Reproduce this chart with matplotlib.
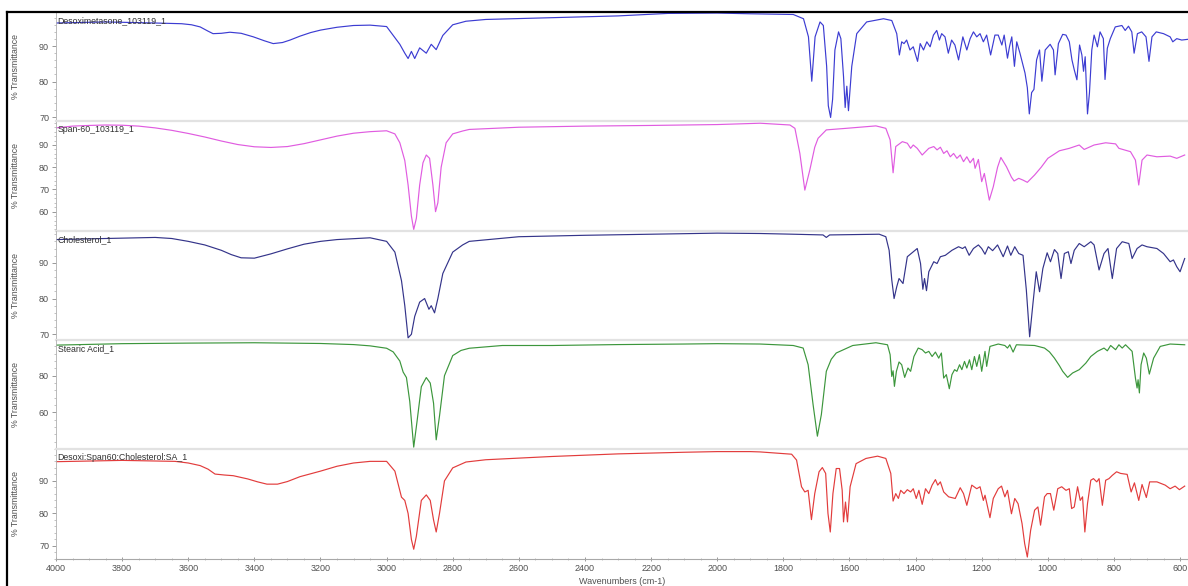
import matplotlib
matplotlib.use('Agg')
import matplotlib.pyplot as plt
from matplotlib.ticker import MultipleLocator, FixedLocator
from matplotlib.lines import Line2D

plt.rcParams['font.family'] = ['Liberation Sans', 'DejaVu Sans']

# ---------------- data: (wavenumber cm-1, % transmittance) ----------------
desoximetasone = [
    (4000, 96.5), (3850, 96.8), (3700, 96.5), (3620, 96.3), (3590, 96.0), (3564, 95.4),
    (3540, 94.2), (3525, 93.5), (3500, 93.6), (3474, 93.9), (3440, 93.6), (3403, 92.6),
    (3370, 91.5), (3343, 90.7), (3315, 91.0), (3292, 91.7), (3262, 92.8), (3230, 93.8),
    (3200, 94.5), (3150, 95.3), (3100, 95.8), (3050, 95.9), (3000, 95.5), (2980, 93.0),
    (2960, 90.5), (2945, 88.0), (2935, 86.5), (2925, 88.5), (2915, 86.5), (2900, 89.5),
    (2880, 88.0), (2865, 90.5), (2850, 89.0), (2830, 93.0), (2800, 96.0), (2760, 97.0),
    (2700, 97.5), (2500, 98.0), (2300, 98.5), (2150, 99.2), (2000, 99.3), (1900, 99.1),
    (1770, 98.9), (1739, 97.7), (1724, 92.6), (1714, 80.1), (1704, 92.6), (1689, 96.8),
    (1679, 95.8), (1669, 84.3), (1664, 73.2), (1657, 69.9), (1651, 75.0), (1644, 88.9),
    (1633, 94.0), (1626, 92.1), (1618, 81.5), (1613, 72.7), (1608, 78.7), (1603, 71.8),
    (1593, 84.3), (1578, 93.5), (1548, 96.8), (1497, 97.7), (1472, 97.2), (1457, 93.5),
    (1449, 87.5), (1442, 91.2), (1435, 90.7), (1427, 91.7), (1417, 88.9), (1407, 89.8),
    (1394, 85.7), (1386, 90.7), (1376, 88.9), (1366, 91.2), (1356, 89.8), (1346, 93.1),
    (1336, 94.4), (1328, 91.7), (1321, 93.5), (1311, 92.6), (1301, 88.0), (1291, 91.7),
    (1281, 90.3), (1270, 86.1), (1257, 92.6), (1245, 88.9), (1235, 92.1), (1225, 94.0),
    (1215, 92.6), (1205, 93.5), (1195, 91.2), (1185, 93.1), (1173, 87.5), (1160, 93.1),
    (1150, 93.1), (1139, 90.3), (1132, 93.1), (1122, 86.6), (1116, 89.8), (1109, 92.6),
    (1101, 84.3), (1094, 91.2), (1084, 87.9), (1069, 82.4), (1062, 78.3), (1056, 70.9),
    (1049, 76.9), (1042, 77.8), (1034, 86.1), (1025, 88.9), (1018, 80.1), (1008, 88.9),
    (993, 90.5), (983, 88.9), (978, 81.9), (968, 90.7), (955, 93.3), (945, 93.1),
    (935, 91.2), (927, 86.1), (920, 83.3), (912, 80.5), (904, 90.3), (897, 87.5),
    (892, 82.9), (887, 87.0), (880, 70.9), (874, 76.9), (867, 88.9), (860, 93.1),
    (850, 89.8), (842, 94.0), (832, 92.1), (827, 80.6), (820, 89.4), (811, 92.1),
    (796, 95.4), (776, 95.8), (766, 94.4), (756, 95.6), (746, 94.0), (739, 88.0),
    (729, 93.5), (716, 94.0), (703, 92.6), (694, 85.7), (685, 92.6), (672, 94.0),
    (650, 93.5), (630, 92.6), (622, 91.2), (610, 92.1), (595, 91.7), (577, 91.9),
]

span60 = [
    (4000, 97.7), (3950, 98.5), (3900, 98.8), (3850, 99.0), (3800, 98.9), (3750, 98.5),
    (3700, 97.7), (3650, 96.6), (3600, 95.2), (3550, 93.6), (3500, 91.8), (3450, 90.2),
    (3400, 89.2), (3350, 88.9), (3300, 89.3), (3250, 90.6), (3200, 92.3), (3150, 94.0),
    (3100, 95.3), (3050, 96.0), (3000, 96.4), (2975, 95.0), (2960, 91.0), (2945, 83.0),
    (2935, 72.0), (2925, 58.0), (2918, 52.0), (2910, 57.0), (2900, 72.0), (2890, 82.0),
    (2880, 85.5), (2870, 84.0), (2860, 72.0), (2852, 60.0), (2845, 64.0), (2835, 80.0),
    (2820, 91.0), (2800, 95.0), (2770, 96.3), (2750, 97.0), (2600, 98.0), (2400, 98.5),
    (2200, 98.8), (2000, 99.2), (1870, 99.8), (1780, 99.0), (1765, 97.5), (1750, 86.2),
    (1735, 69.7), (1720, 78.7), (1705, 89.0), (1695, 93.0), (1670, 96.8), (1610, 97.5),
    (1520, 98.6), (1490, 97.5), (1477, 92.3), (1468, 77.5), (1460, 89.3), (1440, 91.5),
    (1425, 90.8), (1415, 88.5), (1407, 90.0), (1395, 88.5), (1380, 85.5), (1360, 88.5),
    (1345, 89.3), (1335, 87.8), (1325, 89.0), (1315, 86.2), (1305, 87.4), (1295, 84.7),
    (1285, 86.2), (1275, 84.0), (1265, 85.5), (1255, 82.5), (1245, 84.7), (1235, 82.0),
    (1225, 84.0), (1220, 79.5), (1210, 83.5), (1200, 73.5), (1192, 77.2), (1177, 65.2),
    (1165, 71.2), (1152, 80.0), (1142, 84.4), (1125, 80.2), (1110, 75.5), (1102, 73.8),
    (1088, 75.0), (1075, 74.2), (1062, 73.2), (1040, 76.5), (1020, 80.0), (1000, 84.0),
    (965, 87.4), (935, 88.5), (905, 90.0), (890, 88.0), (860, 90.0), (825, 91.0),
    (795, 90.5), (785, 88.5), (750, 87.0), (735, 83.2), (725, 72.0), (715, 83.2),
    (700, 85.5), (670, 84.7), (630, 85.0), (610, 84.0), (586, 85.5),
]

cholesterol = [
    (4000, 96.5), (3850, 96.8), (3700, 97.1), (3650, 96.8), (3600, 96.0), (3550, 95.0),
    (3500, 93.5), (3470, 92.3), (3440, 91.4), (3400, 91.3), (3350, 92.5), (3300, 93.9),
    (3250, 95.2), (3200, 96.0), (3150, 96.5), (3050, 97.0), (3000, 96.0), (2975, 93.0),
    (2955, 85.0), (2945, 78.0), (2935, 69.0), (2925, 70.0), (2915, 75.0), (2900, 79.0),
    (2885, 80.0), (2872, 77.0), (2865, 78.0), (2855, 76.0), (2845, 80.0), (2830, 87.0),
    (2800, 93.0), (2770, 95.0), (2750, 96.0), (2600, 97.3), (2400, 97.7), (2200, 98.0),
    (2000, 98.3), (1870, 98.2), (1770, 98.0), (1680, 97.8), (1670, 97.1), (1660, 97.8),
    (1510, 98.0), (1490, 97.3), (1480, 93.5), (1472, 85.2), (1465, 80.0), (1457, 83.3),
    (1450, 85.6), (1438, 84.2), (1425, 91.7), (1395, 94.0), (1385, 89.8), (1378, 82.6),
    (1373, 85.6), (1367, 82.2), (1360, 87.5), (1345, 90.3), (1335, 89.8), (1325, 91.7),
    (1310, 92.1), (1290, 93.5), (1270, 94.5), (1258, 94.0), (1250, 94.5), (1238, 92.1),
    (1225, 94.0), (1210, 95.0), (1200, 94.0), (1190, 92.4), (1180, 94.5), (1167, 93.4),
    (1152, 95.0), (1135, 91.7), (1122, 94.7), (1112, 92.1), (1100, 94.5), (1088, 92.6),
    (1075, 92.1), (1065, 82.4), (1055, 69.3), (1045, 78.6), (1035, 87.5), (1025, 81.9),
    (1015, 88.4), (1002, 92.8), (992, 90.3), (980, 93.7), (970, 92.6), (960, 85.6),
    (950, 92.6), (938, 93.1), (930, 89.8), (920, 93.5), (905, 95.4), (890, 94.5),
    (870, 95.9), (860, 95.0), (845, 88.0), (830, 92.6), (818, 94.0), (805, 85.6),
    (792, 94.0), (775, 95.9), (755, 95.4), (745, 91.2), (730, 94.0), (715, 95.0),
    (700, 94.5), (670, 94.0), (650, 92.6), (630, 90.3), (620, 90.8), (610, 88.9),
    (600, 87.5), (586, 91.2),
]

stearic_acid = [
    (4000, 96.7), (3800, 97.5), (3600, 97.8), (3400, 98.0), (3200, 97.6), (3100, 97.0),
    (3050, 96.3), (3000, 95.0), (2980, 93.0), (2960, 88.0), (2950, 82.0), (2940, 79.0),
    (2930, 66.0), (2918, 41.0), (2908, 55.0), (2895, 74.0), (2880, 79.0), (2868, 76.0),
    (2858, 65.0), (2850, 45.0), (2840, 58.0), (2825, 80.0), (2800, 91.0), (2775, 93.8),
    (2750, 95.0), (2650, 96.5), (2500, 96.5), (2300, 97.0), (2100, 97.3), (2000, 97.5),
    (1870, 97.3), (1770, 96.5), (1740, 95.1), (1725, 86.0), (1710, 64.2), (1697, 47.0),
    (1685, 58.8), (1670, 82.4), (1655, 89.0), (1640, 92.4), (1590, 96.5), (1520, 98.0),
    (1485, 96.9), (1477, 91.5), (1472, 79.6), (1468, 82.7), (1464, 74.2), (1458, 82.4),
    (1450, 87.5), (1442, 86.0), (1433, 79.1), (1423, 84.2), (1415, 82.4), (1405, 90.5),
    (1392, 95.1), (1380, 94.2), (1370, 92.4), (1360, 93.3), (1350, 90.5), (1340, 92.9),
    (1330, 89.6), (1322, 92.4), (1315, 78.7), (1307, 80.6), (1298, 72.9), (1290, 80.6),
    (1282, 83.3), (1275, 82.4), (1267, 86.0), (1260, 83.3), (1252, 87.8), (1245, 84.2),
    (1237, 88.7), (1230, 83.3), (1222, 90.5), (1215, 85.1), (1207, 91.5), (1200, 82.4),
    (1190, 93.3), (1185, 85.1), (1175, 96.0), (1150, 97.3), (1130, 96.5), (1122, 95.1),
    (1115, 96.9), (1105, 92.9), (1095, 96.9), (1040, 96.5), (1010, 95.1), (995, 93.0),
    (980, 89.6), (965, 85.5), (955, 82.4), (940, 79.1), (925, 81.5), (905, 83.3),
    (885, 86.9), (870, 90.5), (850, 93.3), (830, 95.1), (820, 93.6), (810, 96.5),
    (795, 94.2), (785, 96.9), (775, 95.1), (765, 96.9), (755, 95.1), (745, 93.3),
    (735, 78.7), (730, 73.3), (727, 77.8), (723, 70.6), (718, 86.0), (710, 92.4),
    (702, 89.6), (693, 80.9), (680, 89.6), (660, 96.0), (630, 97.3), (586, 96.9),
]

mixture = [
    (4000, 95.9), (3800, 96.3), (3640, 96.0), (3600, 95.5), (3564, 94.7), (3540, 93.6),
    (3519, 92.1), (3490, 91.8), (3464, 91.6), (3420, 90.6), (3390, 89.7), (3362, 89.0),
    (3330, 89.0), (3300, 89.8), (3262, 91.3), (3200, 93.0), (3150, 94.5), (3100, 95.5),
    (3050, 96.0), (3000, 96.0), (2975, 93.0), (2955, 85.0), (2945, 84.0), (2935, 80.0),
    (2925, 72.0), (2918, 69.0), (2910, 73.0), (2895, 84.0), (2880, 85.7), (2868, 84.0),
    (2858, 78.0), (2850, 74.3), (2840, 80.0), (2825, 90.0), (2800, 94.0), (2760, 95.8),
    (2700, 96.5), (2500, 97.5), (2300, 98.3), (2100, 98.8), (2000, 99.0), (1900, 99.0),
    (1870, 98.9), (1775, 98.2), (1760, 96.4), (1745, 88.2), (1735, 86.6), (1725, 87.1),
    (1715, 78.1), (1705, 86.1), (1692, 92.8), (1682, 94.1), (1672, 92.3), (1665, 80.0),
    (1658, 74.3), (1650, 86.1), (1640, 93.8), (1630, 93.8), (1622, 87.1), (1618, 77.4),
    (1612, 83.5), (1606, 77.4), (1598, 88.2), (1580, 95.3), (1550, 96.9), (1515, 97.6),
    (1490, 96.9), (1475, 92.3), (1468, 83.8), (1460, 86.1), (1452, 84.6), (1445, 87.1),
    (1435, 86.1), (1425, 87.3), (1415, 86.6), (1407, 87.6), (1398, 84.6), (1390, 87.1),
    (1380, 82.8), (1370, 87.6), (1360, 86.1), (1350, 88.7), (1340, 90.4), (1333, 88.7),
    (1325, 89.7), (1315, 86.6), (1300, 85.1), (1280, 84.6), (1265, 87.9), (1255, 86.1),
    (1245, 82.5), (1230, 88.7), (1215, 87.6), (1205, 88.2), (1195, 84.0), (1190, 85.6),
    (1175, 78.7), (1165, 84.6), (1150, 87.6), (1140, 88.4), (1130, 85.1), (1122, 87.1),
    (1110, 79.9), (1100, 84.6), (1090, 83.0), (1078, 76.9), (1070, 70.7), (1062, 66.6),
    (1052, 74.8), (1040, 81.0), (1030, 82.0), (1022, 76.4), (1010, 85.1), (1002, 86.1),
    (992, 86.1), (982, 81.0), (970, 87.6), (958, 88.2), (945, 87.1), (935, 87.6),
    (928, 81.5), (920, 82.0), (910, 88.2), (902, 84.0), (895, 85.1), (888, 74.3),
    (880, 83.0), (870, 90.2), (862, 90.7), (852, 89.7), (845, 90.7), (835, 82.5),
    (825, 90.2), (815, 90.7), (805, 91.7), (792, 92.8), (780, 92.3), (760, 92.0),
    (748, 86.6), (738, 89.4), (725, 84.0), (715, 88.9), (702, 84.9), (692, 89.7),
    (670, 89.7), (645, 88.7), (630, 87.6), (615, 88.4), (602, 87.3), (586, 88.4),
]

series_labels = ["Desoximetasone_103119_1", "Span-60_103119_1", "Cholesterol_1",
                 "Stearic Acid_1", "Desoxi:Span60:Cholesterol:SA_1"]
series_data = [desoximetasone, span60, cholesterol, stearic_acid, mixture]
series_colors = ["#3c3cd2", "#e05ce0", "#34348a", "#3c963c", "#e23c3c"]
y_limits = [(68.9, 99.6), (51.3, 100.8), (68.4, 98.9), (40.0, 99.5), (66.0, 99.8)]
y_ticks = [[70, 80, 90], [60, 70, 80, 90], [70, 80, 90], [60, 80], [70, 80, 90]]
y_minor = [2, 2, 2, 4, 2]
x_ticks = [4000, 3800, 3600, 3400, 3200, 3000, 2800, 2600, 2400, 2200, 2000,
           1800, 1600, 1400, 1200, 1000, 800, 600]

# ---------------- layout ----------------
W, H = 1188, 586
fig = plt.figure(figsize=(W / 100, H / 100), dpi=100)
fig.patch.set_facecolor('white')
panel_px = [(12, 121), (121, 231), (231, 340), (340, 449), (449, 559)]
left_px = 56
tick_col = '#505050'

for i, (pts, lab, col) in enumerate(zip(series_data, series_labels, series_colors)):
    top, bot = panel_px[i]
    ax = fig.add_axes([left_px / W, 1 - bot / H, 1 - left_px / W, (bot - top) / H])
    wn = [p[0] for p in pts]
    tr = [p[1] for p in pts]
    ax.plot(wn, tr, color=col, lw=0.85, solid_joinstyle='round')
    ax.set_xlim(4000, 576)
    ax.set_ylim(*y_limits[i])
    ax.set_facecolor('none')
    ax.yaxis.set_major_locator(FixedLocator(y_ticks[i]))
    ax.yaxis.set_minor_locator(MultipleLocator(y_minor[i]))
    ax.tick_params(axis='y', which='major', length=3, width=0.6, color='#888888',
                   labelsize=6.5, labelcolor=tick_col, pad=2)
    ax.tick_params(axis='y', which='minor', length=1.5, width=0.5, color='#aaaaaa')
    for s in ('top', 'right'):
        ax.spines[s].set_visible(False)
    ax.spines['left'].set_color('#b0b0b0')
    ax.spines['left'].set_linewidth(0.6)
    ax.spines['left'].set_linestyle((0, (2, 1)))
    if i < 4:
        ax.spines['bottom'].set_color('#e2e2e2')
        ax.spines['bottom'].set_linewidth(1.6)
        ax.set_xticks([])
    else:
        ax.spines['bottom'].set_color('#a8a8a8')
        ax.spines['bottom'].set_linewidth(0.8)
        ax.set_xticks(x_ticks)
        ax.set_xticklabels([str(t) for t in x_ticks])
        ax.xaxis.set_minor_locator(MultipleLocator(50))
        ax.tick_params(axis='x', which='major', length=3, width=0.6, color='#888888',
                       labelsize=6.5, labelcolor=tick_col, pad=2, direction='inout')
        ax.tick_params(axis='x', which='minor', length=2, width=0.5, color='#aaaaaa',
                       direction='inout')
    ax.text(0.0015, 1 - 9 / (bot - top), lab, transform=ax.transAxes,
            ha='left', va='center', fontsize=6.3, color='#303030')
    fig.text(16 / W, 1 - (top + bot) / 2 / H, '% Transmittance', rotation=90,
             ha='center', va='center', fontsize=6.3, color=tick_col)

fig.text((left_px + W) / 2 / W, 1 - 581 / H, 'Wavenumbers (cm-1)', ha='center',
         va='center', fontsize=6.5, color=tick_col)

# black frame on top and left
fig.add_artist(Line2D([7 / W, 1], [1 - 12 / H, 1 - 12 / H], color='black', lw=1.6,
                      transform=fig.transFigure))
fig.add_artist(Line2D([7 / W, 7 / W], [0, 1 - 12 / H], color='black', lw=1.6,
                      transform=fig.transFigure))

fig.savefig('out.png', dpi=100, facecolor='white')
